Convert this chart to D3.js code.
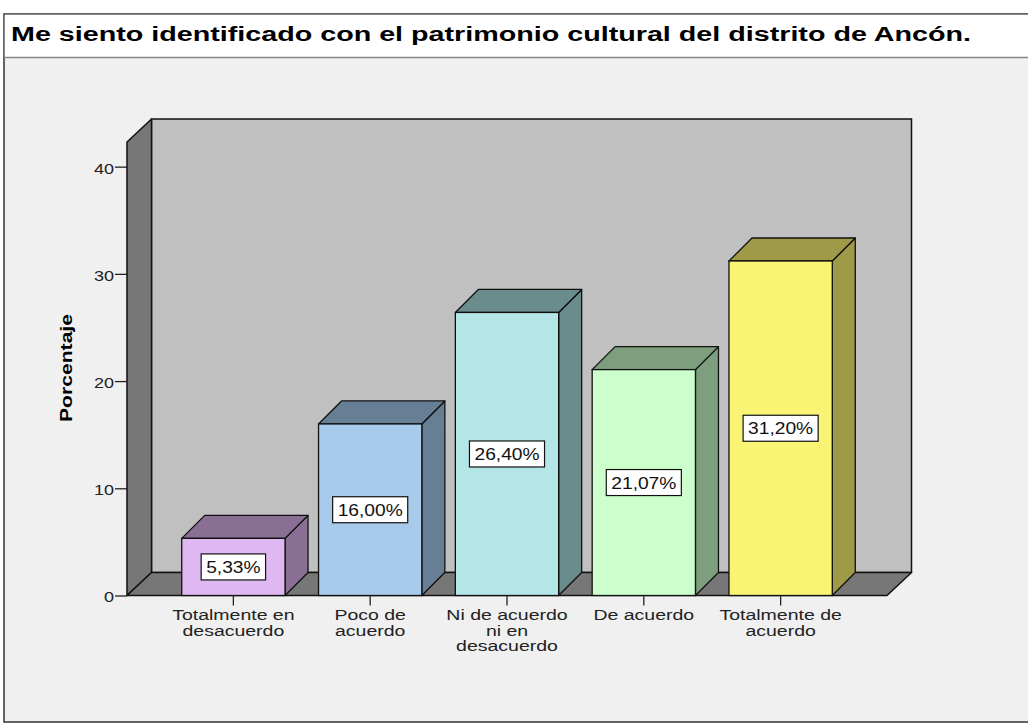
<!DOCTYPE html>
<html lang="es">
<head>
<meta charset="UTF-8">
<title>Patrimonio cultural de Ancón</title>
<script src="https://d3js.org/d3.v7.min.js"></script>
<style>
    body { margin: 0; background: #ffffff; }
    svg { display: block; font-family: Arial, "Liberation Sans", Helvetica, sans-serif; }
    .tick_text { font-size: 15px; fill: #222; }
    .cat_text { font-size: 15px; fill: #222; }
    .val_text { font-size: 16px; fill: #111; }
</style>
</head>
<body>
<svg width="1028" height="723"></svg>
<script>
    // data
    const categories = [
        ["Totalmente en", "desacuerdo"],
        ["Poco de", "acuerdo"],
        ["Ni de acuerdo", "ni en", "desacuerdo"],
        ["De acuerdo"],
        ["Totalmente de", "acuerdo"]
    ];
    const percentages = [5.33, 16.00, 26.40, 21.07, 31.20];
    const yTicks = [0, 10, 20, 30, 40];
    const frontColors = ["#dfb8f2", "#a9cbeb", "#b4e6e8", "#ccffcc", "#faf474"];
    const sideColors  = ["#8a6f94", "#667f94", "#6a8c8d", "#7d9f7d", "#9e9a48"];

    const svg = d3.select("svg");
    const W = 1028, H = 723;
    const stretch = 1.3;   // the original picture is widened, text too

    // background + frame
    svg.append("rect").attr("x", 0).attr("y", 0).attr("width", W).attr("height", H).attr("fill", "#ffffff");
    svg.append("rect").attr("x", 4).attr("y", 14).attr("width", W).attr("height", 708)
        .attr("fill", "#f0f0f0").attr("stroke", "#333").attr("stroke-width", 1.5);
    svg.append("rect").attr("x", 4.75).attr("y", 14.75).attr("width", W).attr("height", 42)
        .attr("fill", "#ffffff");
    svg.append("line").attr("x1", 4).attr("x2", W).attr("y1", 57.5).attr("y2", 57.5)
        .attr("stroke", "#888").attr("stroke-width", 1.5);

    svg.append("text")
        .attr("x", 11).attr("y", 41)
        .attr("font-size", "20px").attr("font-weight", "bold").attr("fill", "#000")
        .attr("textLength", 960).attr("lengthAdjust", "spacingAndGlyphs")
        .text("Me siento identificado con el patrimonio cultural del distrito de Ancón.");

    // scales
    const x0 = 127, x1 = 887;
    const x = d3.scaleBand()
        .domain(d3.range(categories.length))
        .range([x0, x1])
        .paddingInner(0.245)
        .paddingOuter(0.4);
    const y = d3.scaleLinear().domain([0, 42.3]).range([595.5, 142]);

    const wdx = 24.5, wdy = -23;   // wall depth
    const bdx = 23, bdy = -23;     // bar depth

    const g = svg.append("g");
    const yTop = y.range()[1], yBot = y.range()[0];

    // back wall
    g.append("rect")
        .attr("x", x0 + wdx).attr("y", yTop + wdy)
        .attr("width", x1 - x0).attr("height", yBot - yTop)
        .attr("fill", "#c0c0c0").attr("stroke", "#111").attr("stroke-width", 1.5);
    // left side wall
    g.append("path")
        .attr("d", `M${x0},${yBot} L${x0},${yTop} L${x0 + wdx},${yTop + wdy} L${x0 + wdx},${yBot + wdy} Z`)
        .attr("fill", "#777777").attr("stroke", "#111").attr("stroke-width", 1.5).attr("stroke-linejoin", "round");
    // floor
    g.append("path")
        .attr("d", `M${x0},${yBot} L${x0 + wdx},${yBot + wdy} L${x1 + wdx},${yBot + wdy} L${x1},${yBot} Z`)
        .attr("fill", "#777777").attr("stroke", "#111").attr("stroke-width", 1.5).attr("stroke-linejoin", "round");

    // y axis
    const yAxis = d3.axisLeft(y).tickValues(yTicks).tickSize(12).tickFormat(d3.format("d"));
    const ya = svg.append("g").attr("transform", `translate(${x0},0)`).call(yAxis);
    ya.select(".domain").remove();
    ya.selectAll(".tick line").attr("stroke", "#222").attr("stroke-width", 1.3);
    ya.selectAll(".tick text")
        .attr("class", "tick_text").attr("font-family", null).attr("font-size", null)
        .attr("x", 0).attr("dy", "0.36em")
        .attr("transform", "translate(-13,1) scale(1.2,1)");

    svg.append("text")
        .attr("transform", "translate(72,368) rotate(-90)")
        .attr("text-anchor", "middle")
        .attr("font-size", "17px").attr("font-weight", "bold")
        .attr("fill", "#000")
        .attr("textLength", 108).attr("lengthAdjust", "spacingAndGlyphs")
        .text("Porcentaje");

    // bars
    const bars = svg.append("g").selectAll("g")
        .data(percentages)
        .join("g");

    bars.each(function (d, i) {
        const b = d3.select(this);
        const l = x(i), r = x(i) + x.bandwidth();
        const t = y(d), bt = yBot;
        // side
        b.append("path")
            .attr("d", `M${r},${bt} L${r},${t} L${r + bdx},${t + bdy} L${r + bdx},${bt + bdy} Z`)
            .attr("fill", sideColors[i]).attr("stroke", "#111").attr("stroke-width", 1.3).attr("stroke-linejoin", "round");
        // top
        b.append("path")
            .attr("d", `M${l},${t} L${l + bdx},${t + bdy} L${r + bdx},${t + bdy} L${r},${t} Z`)
            .attr("fill", sideColors[i]).attr("stroke", "#111").attr("stroke-width", 1.3).attr("stroke-linejoin", "round");
        // front
        b.append("rect")
            .attr("x", l).attr("y", t).attr("width", x.bandwidth()).attr("height", bt - t)
            .attr("fill", frontColors[i]).attr("stroke", "#111").attr("stroke-width", 1.3);

        // value label
        const cx = l + x.bandwidth() / 2, cy = (t + bt) / 2;
        const lbl = d.toFixed(2).replace(".", ",") + "%";
        const txt = b.append("text")
            .attr("class", "val_text")
            .attr("transform", `translate(${cx},${cy + 6}) scale(1.2,1)`)
            .attr("text-anchor", "middle")
            .text(lbl);
        const w = txt.node().getComputedTextLength() * 1.2;
        b.insert("rect", "text")
            .attr("x", cx - w / 2 - 5).attr("y", cy - 13)
            .attr("width", w + 10).attr("height", 26)
            .attr("fill", "#ffffff").attr("stroke", "#111").attr("stroke-width", 1.2);
    });

    // x ticks + category labels
    const cats = svg.append("g").selectAll("g")
        .data(categories)
        .join("g")
        .attr("transform", (d, i) => `translate(${x(i) + x.bandwidth() / 2},${yBot})`);
    cats.append("line").attr("y1", 0).attr("y2", 10).attr("stroke", "#222").attr("stroke-width", 1.3);
    cats.append("text")
        .attr("class", "cat_text")
        .attr("text-anchor", "middle")
        .attr("transform", `scale(${stretch},1)`)
        .selectAll("tspan")
        .data(d => d)
        .join("tspan")
        .attr("x", 0)
        .attr("y", (d, j) => 25 + j * 15.5)
        .text(d => d);
</script>
</body>
</html>
